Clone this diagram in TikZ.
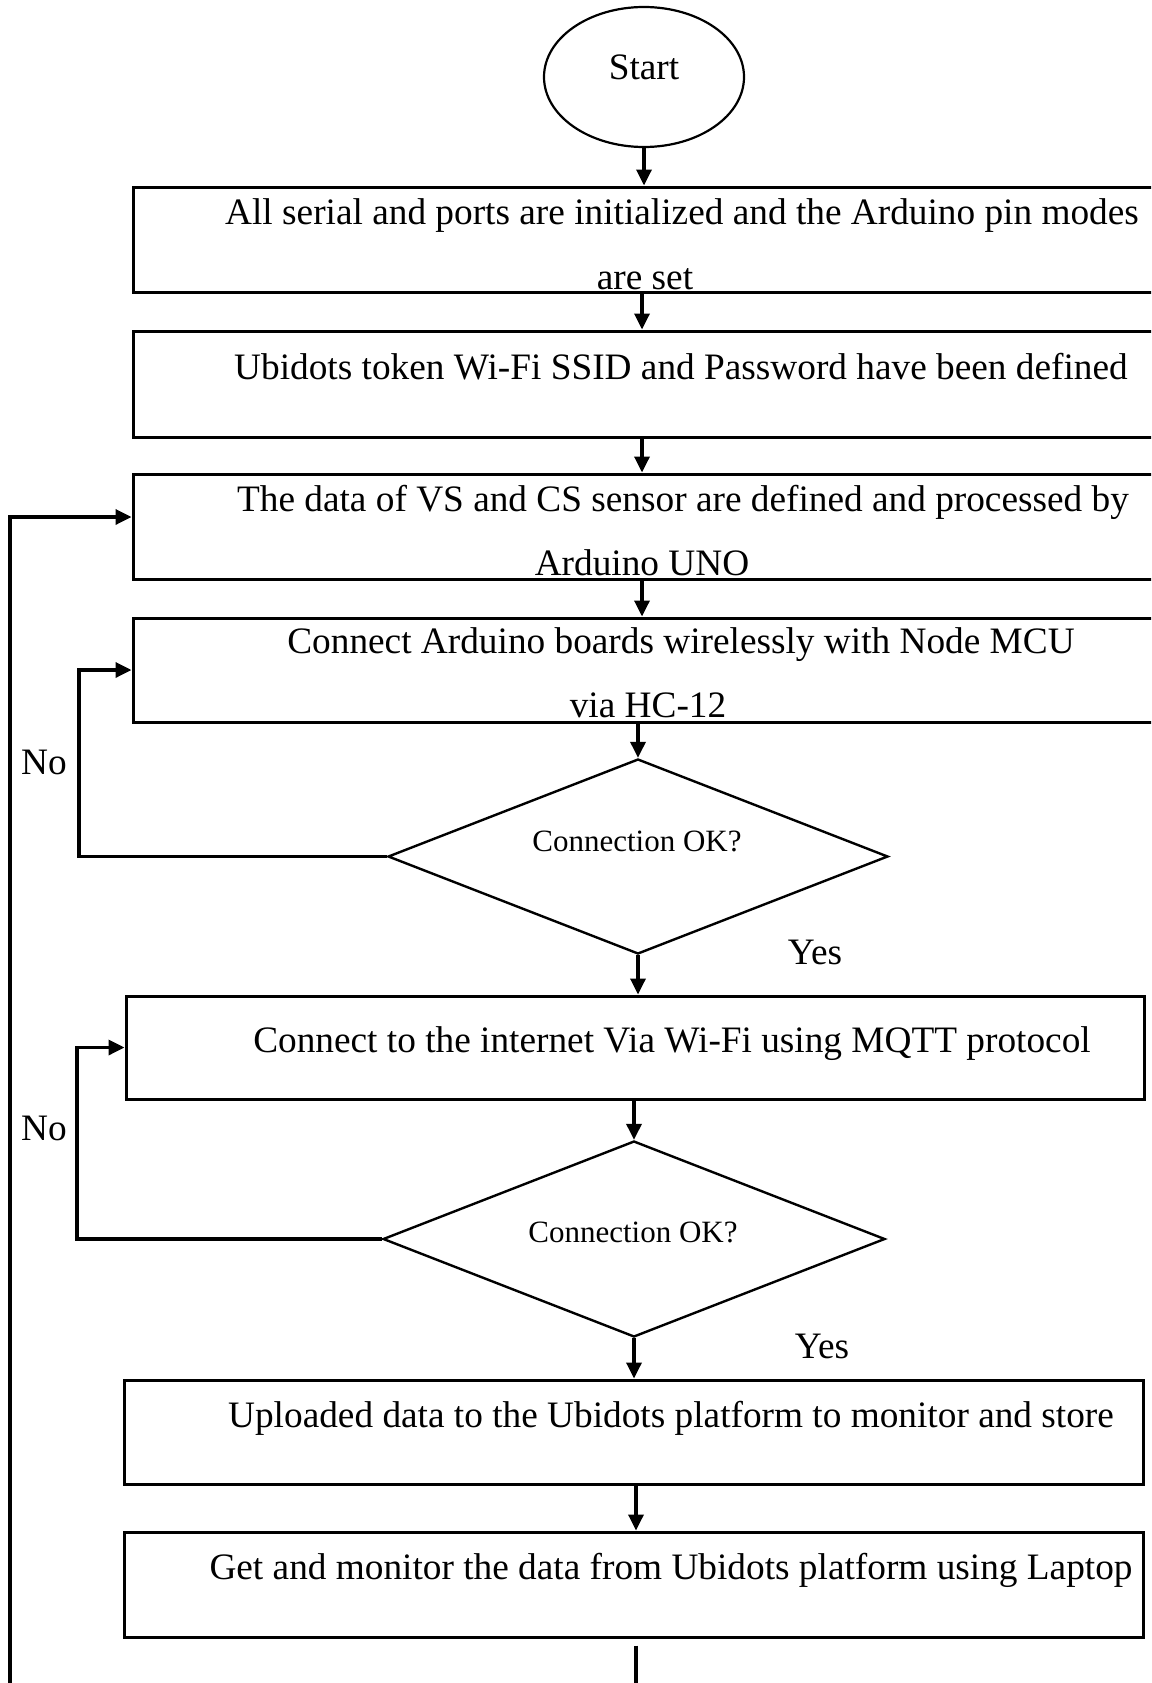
\documentclass[tikz,border=0pt]{standalone}
\usepackage{fontspec}
\setmainfont{Liberation Serif}
\usetikzlibrary{arrows.meta,shapes.geometric}

\tikzset{
  box/.style={draw, rectangle, line width=3pt, inner sep=0pt},
  decision/.style={draw, diamond, line width=2.4pt, inner sep=0pt},
  terminal/.style={draw, ellipse, line width=2.2pt, inner sep=0pt},
  flow/.style={line width=3.4pt, -{Triangle[length=16pt,width=15pt]}},
  txt/.style={anchor=base, inner sep=0pt, font=\fontsize{37.3}{44}\selectfont},
  qtxt/.style={anchor=base, inner sep=0pt, font=\fontsize{31}{36}\selectfont}
}

\begin{document}
\begin{tikzpicture}[x=1pt, y=-1pt]
  \useasboundingbox (0,0) rectangle (1151,1683);
  \clip (0,0) rectangle (1151,1683);

  % Start
  \node[terminal, minimum width=200pt, minimum height=140pt, text depth=20pt,
        font=\fontsize{37.3}{44}\selectfont] (start) at (644,77) {Start};

  % Process boxes
  \node[box, minimum width=1096pt, minimum height=105pt] (init) at (681,239.5) {};
  \node[box, minimum width=1096pt, minimum height=106pt] (token) at (681,384) {};
  \node[box, minimum width=1096pt, minimum height=105pt] (sensor) at (681,526.5) {};
  \node[box, minimum width=1096pt, minimum height=104pt] (radio) at (681,670) {};
  \node[decision, minimum width=500pt, minimum height=195pt] (check1) at (638,856.5) {};
  \node[box, minimum width=1018pt, minimum height=103pt] (wifi) at (635,1047.5) {};
  \node[decision, minimum width=502pt, minimum height=196pt] (check2) at (634,1239) {};
  \node[box, minimum width=1019pt, minimum height=104pt] (upload) at (633.5,1432) {};
  \node[box, minimum width=1019pt, minimum height=105pt] (monitor) at (633.5,1584.5) {};

  % Texts
  \node[txt] (init1) at (682,224) {All serial and ports are initialized and the Arduino pin modes};
  \node[txt] (init2) at (645,289) {are set};
  \node[txt] (tokent) at (681,379) {Ubidots token Wi-Fi SSID and Password have been defined};
  \node[txt] (sensor1) at (683,511) {The data of VS and CS sensor are defined and processed by};
  \node[txt] (sensor2) at (642,575) {Arduino UNO};
  \node[txt] (radio1) at (681,653) {Connect Arduino boards wirelessly with Node MCU};
  \node[txt] (radio2) at (648,717) {via HC-12};
  \node[qtxt] (q1) at (637,851) {Connection OK?};
  \node[txt] (wifit) at (672,1052) {Connect to the internet Via Wi-Fi using MQTT protocol};
  \node[qtxt] (q2) at (633,1242) {Connection OK?};
  \node[txt] (uploadt) at (671,1427) {Uploaded data to the Ubidots platform to monitor and store};
  \node[txt] (monitort) at (671,1579) {Get and monitor the data from Ubidots platform using Laptop};
  \node[txt] (yes1) at (815,964) {Yes};
  \node[txt] (yes2) at (822,1358) {Yes};
  \node[txt] (no1) at (44,774) {No};
  \node[txt] (no2) at (44,1140) {No};

  \coordinate (loopin) at (10,1683);
  \coordinate (exit) at (636,1683);

  % Draw the flow
  \draw[flow] (start.south) -- (start.south |- init.north);
  \draw[flow] ([xshift=-39pt]init.south) -- ([xshift=-39pt]token.north);
  \draw[flow] ([xshift=-39pt]token.south) -- ([xshift=-39pt]sensor.north);
  \draw[flow] ([xshift=-39pt]sensor.south) -- ([xshift=-39pt]radio.north);
  \draw[flow] (check1.north |- radio.south) -- (check1.north);
  \draw[flow] (check1.south) -- (check1.south |- wifi.north);
  \draw[flow] (check2.north |- wifi.south) -- (check2.north);
  \draw[flow] (check2.south) -- (check2.south |- upload.north);
  \draw[flow] ([xshift=2.5pt]upload.south) -- ([xshift=2.5pt]monitor.north);
  \draw[line width=3.4pt] ([xshift=2.5pt,yshift=-7pt]monitor.south) -- (exit);

  % Draw the loops
  \draw[flow] (check1.west) -- ++(-308,0) |- (radio.west);
  \draw[flow] (check2.west) -- ++(-305,0) |- (wifi.west);
  \draw[flow] (loopin) |- ([yshift=9.5pt]sensor.west);
\end{tikzpicture}
\end{document}
